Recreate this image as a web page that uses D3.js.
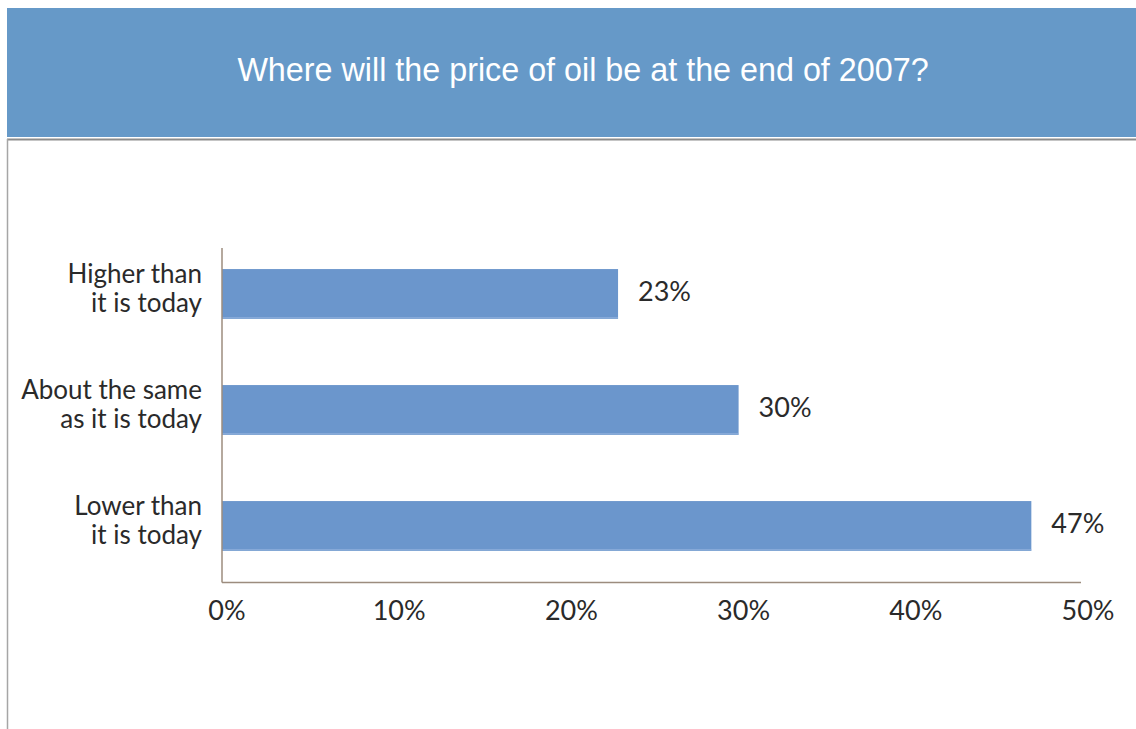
<!DOCTYPE html>
<html>
<head>
<meta charset="utf-8">
<script src="https://cdn.jsdelivr.net/npm/d3@7"></script>
<style>
  html, body { margin: 0; padding: 0; background: #fff; }
  svg { display: block; }
</style>
</head>
<body>
<svg id="chart" width="1136" height="729"></svg>
<script>
// Survey answers and their shares (%)
const categories = [
  ["Higher than", "it is today"],
  ["About the same", "as it is today"],
  ["Lower than", "it is today"]
];
const values = [23, 30, 47];
const tickValues = [0, 10, 20, 30, 40, 50];
const title = "Where will the price of oil be at the end of 2007?";

const svg = d3.select("#chart");
const W = 1136, H = 729;
const labelFont = "Lato, 'Open Sans', sans-serif";

// Header band
svg.append("rect").attr("x", 7).attr("y", 8).attr("width", W - 7).attr("height", 129)
  .attr("fill", "#6699c8");
svg.append("text").attr("x", 583).attr("y", 81).attr("text-anchor", "middle")
  .attr("fill", "#fff").attr("font-family", "'Liberation Sans', Arial, sans-serif")
  .attr("font-size", 32.3).text(title);

// Panel frame below the header
svg.append("line").attr("x1", 7).attr("x2", W).attr("y1", 139.5).attr("y2", 139.5)
  .attr("stroke", "#8c8c8c").attr("stroke-width", 2);
svg.append("line").attr("x1", 7.5).attr("x2", 7.5).attr("y1", 139).attr("y2", H)
  .attr("stroke", "#a6a6a6").attr("stroke-width", 1.5);

// Scales
const x = d3.scaleLinear().domain([0, 50]).range([222, 1083]);
const y = d3.scaleBand().domain(d3.range(categories.length)).range([236, 584])
  .paddingInner(0.57).paddingOuter(0.285);

// Bars
svg.append("g").selectAll("rect").data(values).join("rect")
  .attr("x", x(0)).attr("y", (d, i) => y(i))
  .attr("width", d => x(d) - x(0)).attr("height", y.bandwidth())
  .attr("fill", "#6b96cc");
// thin light edge along the bottom of each bar
svg.append("g").selectAll("line").data(values).join("line")
  .attr("x1", x(0)).attr("x2", d => x(d))
  .attr("y1", (d, i) => y(i) + y.bandwidth() - 1).attr("y2", (d, i) => y(i) + y.bandwidth() - 1)
  .attr("stroke", "#9bb8e0").attr("stroke-width", 1);

// Value labels
svg.append("g").selectAll("text").data(values).join("text")
  .attr("x", d => x(d) + 20).attr("y", (d, i) => y(i) + y.bandwidth() / 2 + 7)
  .attr("font-family", labelFont).attr("font-size", 27).attr("fill", "#2a2a2a")
  .text(d => d + "%");

// Category labels (two lines, right aligned)
const cat = svg.append("g").selectAll("text").data(categories).join("text")
  .attr("text-anchor", "end").attr("font-family", labelFont)
  .attr("font-size", 26).attr("fill", "#2a2a2a");
cat.selectAll("tspan").data(d => d).join("tspan")
  .attr("x", 202)
  .attr("y", function (d, j) {
    const i = categories.indexOf(d3.select(this.parentNode).datum());
    return y(i) + y.bandwidth() / 2 - 11 + j * 29;
  })
  .text(d => d);

// Axes lines
const axisColor = "#9c8c7e";
svg.append("line").attr("x1", x(0)).attr("x2", x(0)).attr("y1", 248).attr("y2", 582.5)
  .attr("stroke", axisColor).attr("stroke-width", 1.5);
svg.append("line").attr("x1", x(0)).attr("x2", 1081).attr("y1", 582.5).attr("y2", 582.5)
  .attr("stroke", axisColor).attr("stroke-width", 1.5);

// Tick labels
svg.append("g").selectAll("text").data(tickValues).join("text")
  .attr("x", d => x(d) + 5).attr("y", 620).attr("text-anchor", "middle")
  .attr("font-family", labelFont).attr("font-size", 27).attr("fill", "#2a2a2a")
  .text(d => d + "%");
</script>
</body>
</html>
